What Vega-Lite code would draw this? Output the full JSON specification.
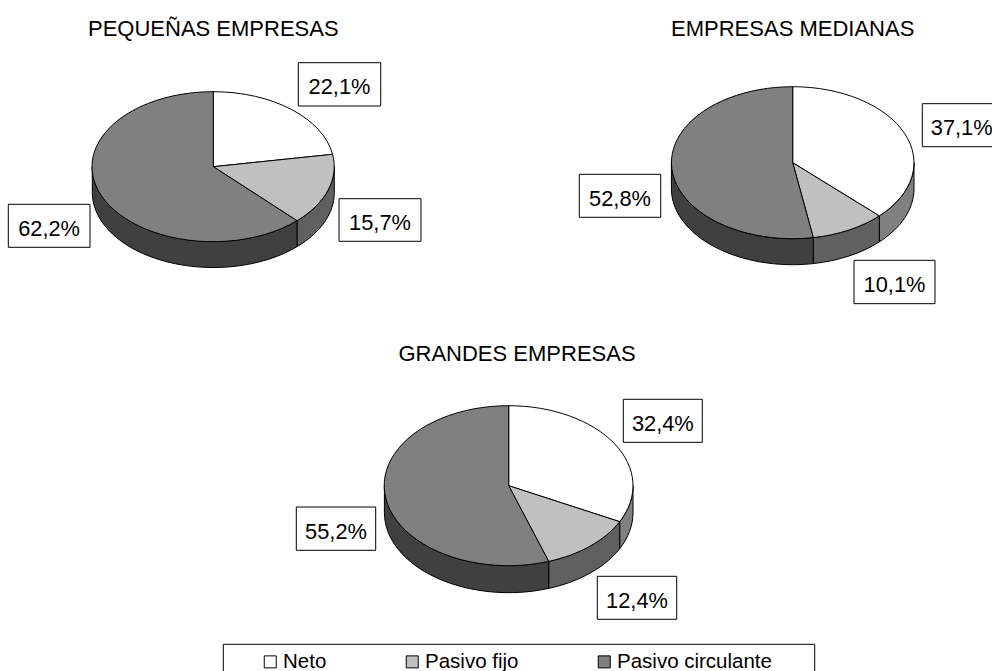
{
"$schema":"https://vega.github.io/schema/vega-lite/v6.json",
"width":992,"height":671,"padding":0,"autosize":{"type":"none"},"background":"white",
"config":{"view":{"stroke":null},"text":{"font":"Liberation Sans","color":"black"},"point":{"opacity":1,"filled":true,"stroke":"black","strokeWidth":1,"size":4}},
"data":{"values":[
{"panel":"PEQUEÑAS EMPRESAS","fila":"superior","categoria":"Neto","clave":"P-Neto","valor":22.1,"etiqueta":"22,1%"},
{"panel":"PEQUEÑAS EMPRESAS","fila":"superior","categoria":"Pasivo fijo","clave":"P-Fijo","valor":15.7,"etiqueta":"15,7%"},
{"panel":"PEQUEÑAS EMPRESAS","fila":"superior","categoria":"Pasivo circulante","clave":"P-Circ","valor":62.2,"etiqueta":"62,2%"},
{"panel":"EMPRESAS MEDIANAS","fila":"superior","categoria":"Neto","clave":"M-Neto","valor":37.1,"etiqueta":"37,1%"},
{"panel":"EMPRESAS MEDIANAS","fila":"superior","categoria":"Pasivo fijo","clave":"M-Fijo","valor":10.1,"etiqueta":"10,1%"},
{"panel":"EMPRESAS MEDIANAS","fila":"superior","categoria":"Pasivo circulante","clave":"M-Circ","valor":52.8,"etiqueta":"52,8%"},
{"panel":"GRANDES EMPRESAS","fila":"inferior","categoria":"Neto","clave":"G-Neto","valor":32.4,"etiqueta":"32,4%"},
{"panel":"GRANDES EMPRESAS","fila":"inferior","categoria":"Pasivo fijo","clave":"G-Fijo","valor":12.4,"etiqueta":"12,4%"},
{"panel":"GRANDES EMPRESAS","fila":"inferior","categoria":"Pasivo circulante","clave":"G-Circ","valor":55.2,"etiqueta":"55,2%"}
]},
"encoding":{
"x":{"field":"panel","type":"nominal","axis":null,"scale":{"type":"point","domain":["PEQUEÑAS EMPRESAS","GRANDES EMPRESAS","EMPRESAS MEDIANAS"],"range":[213.3,792.7],"padding":0}},
"y":{"field":"fila","type":"nominal","axis":null,"scale":{"type":"point","domain":["superior","inferior"],"range":[165,486],"padding":0}}
},
"layer":[
{"transform":[{"filter":"datum.clave==='G-Neto'"}],
 "mark":{"type":"point","fill":"white"},
 "encoding":{"shape":{"value":"M-279.7,158.3L311.7,158.3L311.7,200L-279.7,200Z"}}},
{"transform":[{"filter":"datum.clave!=='P-Neto'"}],
 "mark":{"type":"point"},
 "encoding":{
  "fill":{"field":"categoria","type":"nominal","legend":null,"scale":{"domain":["Neto","Pasivo fijo","Pasivo circulante"],"range":["#808080","#606060","#404040"]}},
  "shape":{"field":"clave","type":"nominal","legend":null,"scale":{
   "domain":["P-Fijo","P-Circ","M-Neto","M-Fijo","M-Circ","G-Neto","G-Fijo","G-Circ"],
   "range":[
    "M121,1.7A121,75 0 0 1 83.7,55.7L83.7,81.7A121,75 0 0 0 121,27.7Z",
    "M83.7,55.7A121,75 0 0 1 -121,1.7L-121,27.7A121,75 0 0 0 83.7,81.7Z",
    "M121.3,-2.3A121.3,76 0 0 1 86.6,50.9L86.6,76.9A121.3,76 0 0 0 121.3,23.7Z",
    "M86.6,50.9A121.3,76 0 0 1 20.6,72.6L20.6,98.6A121.3,76 0 0 0 86.6,76.9Z",
    "M20.6,72.6A121.3,76 0 0 1 -121.3,-2.3L-121.3,23.7A121.3,76 0 0 0 20.6,98.6Z",
    "M130,-0.3A124.3,80 0 0 1 116.7,35.7L116.7,62.7A124.3,80 0 0 0 130,26.7Z",
    "M116.7,35.7A124.3,80 0 0 1 45.7,75.4L45.7,102.4A124.3,80 0 0 0 116.7,62.7Z",
    "M45.7,75.4A124.3,80 0 0 1 -118.6,-0.3L-118.6,26.7A124.3,80 0 0 0 45.7,102.4Z"
   ]}}
 }},
{"mark":{"type":"point"},
 "encoding":{
  "fill":{"field":"categoria","type":"nominal","scale":{"domain":["Neto","Pasivo fijo","Pasivo circulante"],"range":["#FFFFFF","#C0C0C0","#808080"]},
   "legend":{"title":null,"orient":"none","legendX":260,"legendY":651.5,"direction":"horizontal","columns":3,"columnPadding":75,"padding":0,"symbolType":"square","symbolSize":144,"symbolStrokeColor":"black","symbolStrokeWidth":1,"symbolOpacity":1,"labelFont":"Liberation Sans","labelFontSize":20.5,"labelColor":"black","labelOffset":2.5,"labelLimit":300}},
  "shape":{"field":"clave","type":"nominal","legend":null,"scale":{
   "domain":["P-Neto","P-Fijo","P-Circ","M-Neto","M-Fijo","M-Circ","G-Neto","G-Fijo","G-Circ"],
   "range":[
    "M0,1.7L0,-73.3A121,75 0 0 1 119.3,-10.7Z",
    "M0,1.7L119.3,-10.7A121,75 0 0 1 83.7,55.7Z",
    "M0,1.7L83.7,55.7A121,75 0 1 1 0,-73.3Z",
    "M0,-2.3L0,-78.3A121.3,76 0 0 1 86.6,50.9Z",
    "M0,-2.3L86.6,50.9A121.3,76 0 0 1 20.6,72.6Z",
    "M0,-2.3L20.6,72.6A121.3,76 0 1 1 0,-78.3Z",
    "M5.7,-0.3L5.7,-80.3A124.3,80 0 0 1 116.7,35.7Z",
    "M5.7,-0.3L116.7,35.7A124.3,80 0 0 1 45.7,75.4Z",
    "M5.7,-0.3L45.7,75.4A124.3,80 0 1 1 5.7,-80.3Z"
   ]}}
 }},
{"mark":{"type":"point","fill":"white"},
 "encoding":{
  "shape":{"field":"clave","type":"nominal","legend":null,"scale":{
   "domain":["P-Neto","P-Fijo","P-Circ","M-Neto","M-Fijo","M-Circ","G-Neto","G-Fijo","G-Circ"],
   "range":[
    "M85,-102.3L167.4,-102.3L167.4,-59L85,-59Z",
    "M125.7,33.7L207.7,33.7L207.7,76.3L125.7,76.3Z",
    "M-205,39.3L-123.3,39.3L-123.3,82.3L-205,82.3Z",
    "M129.6,-61.3L212,-61.3L212,-18.3L129.6,-18.3Z",
    "M61.3,95.3L142.3,95.3L142.3,138.7L61.3,138.7Z",
    "M-213.4,9.3L-132,9.3L-132,52.3L-213.4,52.3Z",
    "M120.3,-86.7L199.3,-86.7L199.3,-43.7L120.3,-43.7Z",
    "M94.3,90.3L173.7,90.3L173.7,133.3L94.3,133.3Z",
    "M-206.7,21L-127.3,21L-127.3,64.3L-206.7,64.3Z"
   ]}}
 }},
{"mark":{"type":"text","fontSize":21.8,"align":"center","baseline":"alphabetic",
  "dx":{"expr":"{'P-Neto':126.2,'P-Fijo':166.7,'P-Circ':-164.2,'M-Neto':169,'M-Fijo':101.8,'M-Circ':-172.7,'G-Neto':159.8,'G-Fijo':134,'G-Circ':-167}[datum.clave]"},
  "dy":{"expr":"{'P-Neto':-70.7,'P-Fijo':64.6,'P-Circ':70.6,'M-Neto':-30,'M-Fijo':127,'M-Circ':40.6,'G-Neto':-55.4,'G-Fijo':121.6,'G-Circ':52.6}[datum.clave]"}},
 "encoding":{"text":{"field":"etiqueta","type":"nominal"}}},
{"transform":[{"filter":"datum.categoria==='Neto'"}],
 "mark":{"type":"text","fontSize":22,"align":"center","baseline":"alphabetic",
  "dx":{"expr":"{'P-Neto':0,'M-Neto':0,'G-Neto':14}[datum.clave]"},
  "dy":{"expr":"{'P-Neto':-129.3,'M-Neto':-129.3,'G-Neto':-125.3}[datum.clave]"}},
 "encoding":{"text":{"field":"panel","type":"nominal"}}}
],
"resolve":{"scale":{"fill":"independent","shape":"independent"}}
}
